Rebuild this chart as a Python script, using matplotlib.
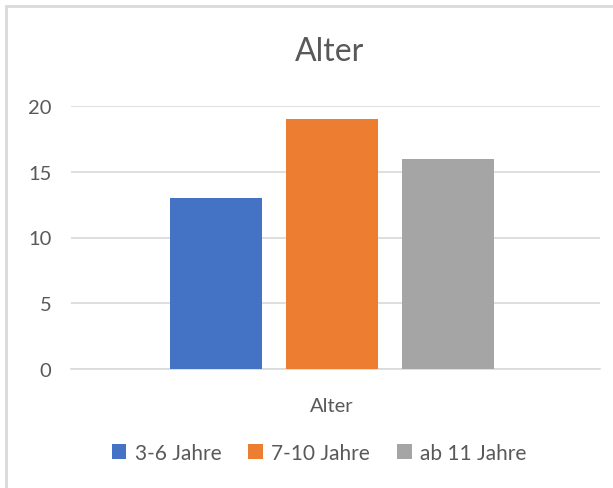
import matplotlib.pyplot as plt
from matplotlib.patches import Rectangle, Patch

# data
categories = ["3-6 Jahre", "7-10 Jahre", "ab 11 Jahre"]
values = [13, 19, 16]
colors = ["#4472C4", "#ED7D31", "#A5A5A5"]
yticks = [0, 5, 10, 15, 20]

plt.rcParams['font.family'] = ['Lato', 'DejaVu Sans']
txt = "#595959"

fig = plt.figure(figsize=(6.13, 4.89), dpi=100)
ax = fig.add_axes([71 / 613, 119 / 489, 529 / 613, 263 / 489])

pos = [0, 1, 2]
ax.bar(pos, values, width=92 / 116, color=colors, zorder=3)
ax.set_xlim(1 - 261 / 116, 1 + 268 / 116)
ax.set_ylim(0, 20)
ax.set_yticks(yticks)
ax.yaxis.grid(True, color="#D9D9D9", linewidth=1.2, zorder=0)
ax.set_xticks([1])
ax.set_xticklabels(["Alter"])
ax.tick_params(length=0, labelsize=14.5, colors=txt)
ax.tick_params(axis="x", pad=20)
ax.tick_params(axis="y", pad=14)
for s in ["left", "right", "top"]:
    ax.spines[s].set_visible(False)
ax.spines["bottom"].set_color("#D9D9D9")
ax.spines["bottom"].set_linewidth(1.2)

fig.text(330 / 613, 1 - 52 / 489, "Alter", ha="center", va="center",
         fontsize=23, color=txt)

handles = [Patch(facecolor=c) for c in colors]
fig.legend(handles, categories, loc="center", bbox_to_anchor=(319 / 613, 1 - 454 / 489),
           ncol=3, frameon=False, fontsize=15, labelcolor=txt,
           handlelength=0.7, handleheight=0.7, handletextpad=0.4, columnspacing=1.3)

# chart border
fig.patches.append(Rectangle((6 / 613, -0.1), 1.2, 1 - 7 / 489 + 0.1,
                             transform=fig.transFigure, fill=False,
                             edgecolor="#D9D9D9", linewidth=2))

plt.savefig("out.png", dpi=100)
